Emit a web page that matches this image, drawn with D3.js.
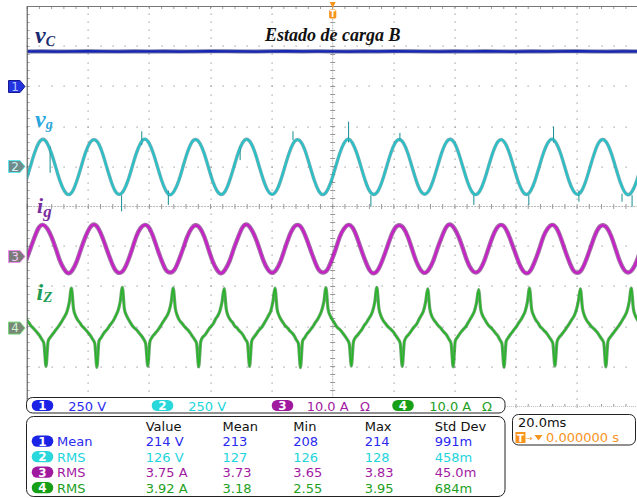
<!DOCTYPE html>
<html><head><meta charset="utf-8">
<script src="https://cdn.jsdelivr.net/npm/d3@7/dist/d3.min.js"></script>
<style>html,body{margin:0;padding:0;background:#fff;}svg{display:block;}</style>
</head><body>
<svg id="c" width="637" height="498"></svg>
<script>
// ---------------- DATA ----------------
// time axis (ms), 20 ms/div, trigger at 0
const timeDomain = [-100, 100];
// Channel 1 : vC (V), sampled every 5 ms from -100 ms
const vcStart = -100, vcStep = 5;
const vcValues = [219,220,218,219,221,219,218,220,219,220,218,219,221,220,219,218,220,221,219,220,219,218,220,219,221,220,219,218,220,219,221,219,218,220,219,220,221,219,218,220,219];
// Channel 2 : vg (V), 12 samples per 60 Hz cycle
const vgStart = -100.38, vgStep = 1.3883;
const vgValues = [
-88,-2,84,147,170,145,82,-4,-90,-151,-176,-153,
-87,-1,85,146,168,147,84,-2,-88,-153,-174,-151,
-90,-4,82,145,171,146,83,-3,-89,-152,-177,-150,
-89,-2,84,148,169,144,82,-5,-91,-151,-175,-152,
-88,-3,83,146,170,147,85,-2,-87,-150,-174,-153,
-90,-4,81,145,168,146,83,-3,-89,-152,-176,-151,
-88,-2,84,147,171,145,82,-4,-90,-153,-175,-152,
-89,-3,83,146,169,146,84,-2,-88,-151,-173,-150,
-87,-1,85,148,170,147,83,-3,-89,-152,-176,-153,
-90,-4,82,145,168,144,81,-5,-91,-152,-175,-151,
-88,-2,84,146,171,146,84,-2,-88,-150,-174,-152,
-89,-3,83,147,169,145,82,-4,-90,-153,-177,-151,
-88,-2];
// vg switching spikes: [time ms, from V, to V]
const vgSpikes = [[-92.5,125,-40],[-69.1,-180,-280],[-62.5,220,135],[-53.8,-150,-240],[-30.3,125,40],[-13.0,220,165],[5.2,150,280],[12.5,-180,-250],[22.0,210,160],[46.2,-180,-240],[64.2,-180,-240],[72.3,150,250],[80.6,-150,-220],[94.7,-170,-220],[98.0,-180,-250]];
// Channel 3 : ig (A)
const igStart = -100.38, igStep = 1.3883;
const igValues = [
-1.0,1.9,4.8,7.2,7.9,7.0,4.9,2.0,-1.1,-3.2,-4.2,-3.3,
-1.1,2.0,4.9,7.1,8.0,7.1,4.8,1.9,-1.0,-3.3,-4.1,-3.4,
-1.2,1.8,5.0,7.1,7.9,7.2,4.9,1.8,-1.1,-3.4,-4.0,-3.3,
-1.0,1.9,4.9,7.0,7.8,7.1,5.0,1.9,-1.2,-3.3,-4.2,-3.2,
-1.1,2.0,4.8,7.2,8.0,7.0,4.9,2.0,-1.1,-3.2,-4.1,-3.3,
-1.2,1.9,4.9,7.1,7.9,7.1,4.8,1.9,-1.0,-3.3,-4.0,-3.4,
-1.1,1.8,5.0,7.0,7.9,7.2,4.9,1.8,-1.1,-3.4,-4.2,-3.3,
-1.0,1.9,4.9,7.1,7.8,7.1,5.0,1.9,-1.2,-3.3,-4.1,-3.2,
-1.1,2.0,4.8,7.2,8.0,7.0,4.9,2.0,-1.1,-3.2,-4.0,-3.3,
-1.2,1.9,4.9,7.1,7.9,7.1,4.8,1.9,-1.0,-3.3,-4.2,-3.4,
-1.1,1.8,5.0,7.0,7.9,7.2,4.9,1.8,-1.1,-3.4,-4.1,-3.3,
-1.0,1.9,4.9,7.1,7.8,7.1,5.0,1.9,-1.2,-3.3,-4.0,-3.2,
-1.1,2.0];
// Channel 4 : iZ (A), 24 samples per cycle
const izStart = -100.79, izStep = 0.69415;
const izValues = [
3.0,2.0,1.3,0.5,0.0,-0.6,-1.2,-1.9,-2.8,-3.8,
-9.6,-3.3,-2.3,-1.6,-0.9,-0.2,0.5,1.3,2.2,3.1,4.3,6.5,10.0,4.8,3.0,2.0,1.3,0.5,0.0,-0.6,-1.2,-1.9,-2.8,-3.8,
-9.8,-3.2,-2.4,-1.5,-0.8,-0.2,0.6,1.3,2.1,3.2,4.4,6.6,10.2,4.7,3.1,2.1,1.2,0.4,-0.1,-0.6,-1.3,-1.9,-2.7,-3.9,
-9.5,-3.4,-2.3,-1.6,-1.0,-0.3,0.5,1.4,2.2,3.0,4.2,6.4,10.0,4.9,3.0,1.9,1.3,0.6,0.0,-0.5,-1.2,-2.0,-2.8,-3.8,
-9.7,-3.3,-2.2,-1.7,-0.9,-0.1,0.5,1.2,2.3,3.1,4.3,6.5,9.9,4.8,2.9,2.0,1.4,0.5,0.1,-0.6,-1.1,-1.8,-2.8,-3.7,
-9.6,-3.3,-2.3,-1.6,-0.8,-0.2,0.4,1.3,2.2,3.2,4.3,6.6,10.0,4.7,3.0,2.0,1.2,0.5,0.0,-0.7,-1.2,-1.9,-2.9,-3.8,
-9.9,-3.2,-2.4,-1.5,-0.9,-0.2,0.5,1.4,2.1,3.1,4.4,6.5,10.1,4.8,3.1,2.1,1.3,0.4,-0.1,-0.6,-1.3,-2.0,-2.8,-3.9,
-9.5,-3.4,-2.3,-1.7,-1.0,-0.3,0.6,1.3,2.2,3.0,4.2,6.4,10.2,4.9,3.0,1.9,1.2,0.5,0.0,-0.5,-1.1,-1.9,-2.7,-3.7,
-9.6,-3.3,-2.2,-1.6,-0.9,-0.1,0.5,1.2,2.3,3.2,4.3,6.5,9.8,4.8,2.9,2.0,1.3,0.6,0.1,-0.6,-1.2,-1.8,-2.8,-3.8,
-9.7,-3.2,-2.3,-1.5,-0.8,-0.2,0.4,1.3,2.2,3.1,4.2,6.3,9.6,4.7,3.0,2.1,1.2,0.5,0.0,-0.6,-1.3,-1.9,-2.9,-3.9,
-9.8,-3.3,-2.4,-1.6,-0.9,-0.2,0.5,1.4,2.1,3.1,4.3,6.5,10.0,4.8,3.1,2.0,1.3,0.4,-0.1,-0.7,-1.2,-2.0,-2.8,-3.8,
-9.5,-3.4,-2.3,-1.7,-1.0,-0.3,0.5,1.3,2.2,3.0,4.4,6.6,9.8,4.9,3.0,1.9,1.2,0.5,0.0,-0.5,-1.1,-1.9,-2.7,-3.7,
-9.7,-3.3,-2.3,-1.6,-0.9,-0.2,0.5,1.3,2.2,3.1,4.3,6.5,10.0,4.8,3.0,2.0,1.3];
// channel settings
const chNumbers = ["1","2","3","4"];
const chScaleText = ["250 V","250 V","10.0 A","10.0 A"];
const chPerDiv = [250, 250, 10, 10];
const chOffsetDiv = [3, 1, -1.25, -3.04];
// measurement table
const measHeaders = ["Value","Mean","Min","Max","Std Dev"];
const measTypes = ["Mean","RMS","RMS","RMS"];
const measValues = [
  ["214 V","213","208","214","991m"],
  ["126 V","127","126","128","458m"],
  ["3.75 A","3.73","3.65","3.83","45.0m"],
  ["3.92 A","3.18","2.55","3.95","684m"]];
const timebaseText = "20.0ms";
const triggerText = "0.000000 s";
const titleText = "Estado de carga B";

// ---------------- STYLE ----------------
const chColor = ["#2a2af0","#22d4dc","#a21aa2","#1ea01e"];
const ovalColor = ["#1a22e6","#2ad8dc","#a01aa0","#17a017"];
const uiFont = "'DejaVu Sans', Verdana, sans-serif";
const serif = "'Liberation Serif','Times New Roman',serif";

const svg = d3.select("#c");
svg.append("rect").attr("width",637).attr("height",498).attr("fill","#fff");

const x = d3.scaleLinear().domain(timeDomain).range([27.2, 638.2]);
const yDiv = d3.scaleLinear().domain([-5, 5]).range([406.5, 6.5]);
const chY = chPerDiv.map((p,i) => d3.scaleLinear()
  .domain([(-5 - chOffsetDiv[i]) * p, (5 - chOffsetDiv[i]) * p]).range([406.5, 6.5]));

// ---------------- GRATICULE ----------------
const grat = svg.append("g");
const majorT = d3.range(-80, 81, 20).filter(d => d !== 0);
const majorD = d3.range(-4, 5, 1).filter(d => d !== 0);
const minorD = d3.range(-5, 5.001, 0.2);
const minorT = d3.range(-100, 100.001, 4);
const dots = [];
majorT.forEach(t => minorD.forEach(d => dots.push([x(t), yDiv(d)])));
majorD.forEach(d => minorT.forEach(t => dots.push([x(t), yDiv(d)])));
grat.selectAll("rect.dot").data(dots).join("rect").attr("class","dot")
  .attr("x", d => Math.round(d[0]) - 0.5).attr("y", d => Math.round(d[1]) - 0.5)
  .attr("width", 1.2).attr("height", 1.2).attr("fill", "#9a9a9a");
// center axes
grat.append("line").attr("x1", x(0)).attr("x2", x(0)).attr("y1", yDiv(5)).attr("y2", yDiv(-5))
  .attr("stroke", "#b8b8b8").attr("stroke-dasharray","2,1");
grat.append("line").attr("x1", x(-100)).attr("x2", x(100)).attr("y1", yDiv(0)).attr("y2", yDiv(0))
  .attr("stroke", "#b8b8b8").attr("stroke-dasharray","2,1");
grat.selectAll("line.vt").data(minorD).join("line").attr("class","vt")
  .attr("x1", x(0) - 2.5).attr("x2", x(0) + 2.5).attr("y1", d => yDiv(d)).attr("y2", d => yDiv(d))
  .attr("stroke", "#999");
grat.selectAll("line.ht").data(minorT).join("line").attr("class","ht")
  .attr("y1", yDiv(0) - 2.5).attr("y2", yDiv(0) + 2.5).attr("x1", d => x(d)).attr("x2", d => x(d))
  .attr("stroke", "#999");
// border ticks
grat.selectAll("line.tt").data(minorT).join("line").attr("class","tt")
  .attr("x1", d => x(d)).attr("x2", d => x(d)).attr("y1", yDiv(5)).attr("y2", yDiv(5) + 2.5).attr("stroke", "#999");
grat.selectAll("line.bt").data(minorT).join("line").attr("class","bt")
  .attr("x1", d => x(d)).attr("x2", d => x(d)).attr("y1", yDiv(-5)).attr("y2", yDiv(-5) - 2.5).attr("stroke", "#999");
grat.selectAll("line.lt").data(minorD).join("line").attr("class","lt")
  .attr("x1", x(-100)).attr("x2", x(-100) + 2.5).attr("y1", d => yDiv(d)).attr("y2", d => yDiv(d)).attr("stroke", "#aaa");
grat.append("line").attr("x1", x(-100)).attr("x2", 637).attr("y1", yDiv(-5)).attr("y2", yDiv(-5))
  .attr("stroke", "#bbb").attr("stroke-dasharray","1,1");
grat.append("line").attr("x1", x(-100)).attr("x2", 637).attr("y1", yDiv(5)).attr("y2", yDiv(5)).attr("stroke", "#777");
grat.append("line").attr("x1", x(-100)).attr("x2", x(-100)).attr("y1", yDiv(5)).attr("y2", yDiv(-5)).attr("stroke", "#444");

// ---------------- TRACES ----------------
svg.append("clipPath").attr("id","plotclip").append("rect")
  .attr("x", x(-100) + 0.5).attr("y", yDiv(5)).attr("width", 637 - x(-100)).attr("height", yDiv(-5) - yDiv(5));
const traces = svg.append("g").attr("clip-path","url(#plotclip)");
function drawTrace(values, start, step, sc, curve, dark, main, wDark, wMain) {
  const line = d3.line().x((d,i) => x(start + i * step)).y(d => sc(d)).curve(curve);
  traces.append("path").attr("d", line(values)).attr("fill","none").attr("stroke", dark)
    .attr("stroke-width", wDark).attr("stroke-opacity", 0.6).attr("stroke-linejoin","round");
  traces.append("path").attr("d", line(values)).attr("fill","none").attr("stroke", main)
    .attr("stroke-width", wMain).attr("stroke-linejoin","round");
}
drawTrace(vcValues, vcStart, vcStep, chY[0], d3.curveLinear, "#080c60", "#1626b4", 4, 2.2);
traces.selectAll("line.sp").data(vgSpikes).join("line").attr("class","sp")
  .attr("x1", d => x(d[0])).attr("x2", d => x(d[0])).attr("y1", d => chY[1](d[1])).attr("y2", d => chY[1](d[2]))
  .attr("stroke", "#138d92").attr("stroke-width", 1);
drawTrace(vgValues, vgStart, vgStep, chY[1], d3.curveNatural, "#0f7880", "#26c2ca", 3.4, 1.8);
drawTrace(igValues, igStart, igStep, chY[2], d3.curveNatural, "#660a6c", "#c81ec8", 4.4, 2.2);
drawTrace(izValues, izStart, izStep, chY[3], d3.curveMonotoneX, "#0a6a10", "#28b428", 3.2, 1.6);

// ---------------- TRACE LABELS ----------------
function label(xp, yp, main, sub, size, subSize, dy, color) {
  const t = svg.append("text").attr("x", xp).attr("y", yp).attr("font-family", serif)
    .attr("font-style","italic").attr("font-weight","bold").attr("font-size", size).attr("fill", color);
  t.append("tspan").text(main);
  t.append("tspan").attr("font-size", subSize).attr("dy", dy).text(sub);
}
label(35, 42.7, "v", "C", 24, 14, 3.3, "#1b2a6e");
label(35, 126.7, "v", "g", 24, 14, 1.8, "#2aa6de");
label(37, 213, "i", "g", 22, 17, 3.5, "#7a2c9e");
label(36.5, 299.5, "i", "Z", 24, 15, 2.5, "#1e9e55");
svg.append("text").attr("x", 265).attr("y", 41).attr("font-family", serif).attr("font-style","italic")
  .attr("font-weight","bold").attr("font-size", 18).attr("fill","#111").text(titleText);

// ---------------- CHANNEL MARKERS ----------------
const mFill = ["#2233e0","#6f8c8c","#7a7a7a","#778877"];
const mStroke = ["#1a1a90","#5ee6ea","#f08cf0","#7ad87a"];
const mText = ["#b8c8ff","#d0f4f4","#f4c8f4","#d0f4d0"];
chNumbers.forEach((n,i) => {
  const yy = chY[i](0);
  svg.append("path").attr("d", `M8.5,${yy-6} H20 L25,${yy} L20,${yy+6} H8.5 Z`)
    .attr("fill", mFill[i]).attr("stroke", mStroke[i]).attr("stroke-width", 1).attr("stroke-linejoin","round");
  svg.append("text").attr("x", 15).attr("y", yy + 4.3).attr("text-anchor","middle")
    .attr("font-family", uiFont).attr("font-size", 12).attr("fill", mText[i]).text(n);
});
// trigger marker
const tx = x(0);
svg.append("path").attr("d", `M${tx-3},2 H${tx+3} L${tx},8 Z`).attr("fill","#f7941d");
svg.append("rect").attr("x", tx-3.6).attr("y", 9.5).attr("width", 7.2).attr("height", 9).attr("rx", 1.5).attr("fill","#f7941d");
svg.append("text").attr("x", tx).attr("y", 17).attr("text-anchor","middle").attr("font-family", uiFont)
  .attr("font-size", 8).attr("font-weight","bold").attr("fill","#fff").text("T");

// ---------------- CHANNEL BAR ----------------
function oval(cx, cy, i, n) {
  svg.append("rect").attr("x", cx - 10.8).attr("y", cy - 5.6).attr("width", 21.6).attr("height", 11.2)
    .attr("rx", 5.6).attr("fill", ovalColor[i]);
  svg.append("text").attr("x", cx).attr("y", cy + 4.3).attr("text-anchor","middle").attr("font-family", uiFont)
    .attr("font-size", 12).attr("font-weight","bold").attr("fill","#fff").text(n);
}
svg.append("rect").attr("x", 26.5).attr("y", 397.5).attr("width", 478.5).attr("height", 15.5).attr("rx", 6)
  .attr("fill","#fff").attr("stroke","#222");
const barOvalX = [42.5, 162.5, 282.5, 403];
const barTextX = [68.3, 188.3, 306.7, 429.3];
const omegaX = [null, null, 360, 482];
chNumbers.forEach((n,i) => {
  oval(barOvalX[i], 405.5, i, n);
  svg.append("text").attr("x", barTextX[i]).attr("y", 410.5).attr("font-family", uiFont).attr("font-size", 13)
    .attr("fill", chColor[i]).text(chScaleText[i]);
  if (omegaX[i]) svg.append("text").attr("x", omegaX[i]).attr("y", 410.5).attr("font-family", uiFont)
    .attr("font-size", 13).attr("fill", chColor[i]).text("Ω");
});

// ---------------- MEASUREMENT TABLE ----------------
svg.append("rect").attr("x", 26.5).attr("y", 416.5).attr("width", 478.5).attr("height", 80).attr("rx", 7)
  .attr("fill","#fff").attr("stroke","#222");
const colX = [145.7, 222.5, 293.3, 364.7, 434.7];
const rowY = [446, 461.5, 477, 492.5];
measHeaders.forEach((h,j) => svg.append("text").attr("x", colX[j]).attr("y", 430.5).attr("font-family", uiFont)
  .attr("font-size", 13).attr("fill","#111").text(h));
measTypes.forEach((m,i) => {
  oval(42.5, rowY[i] - 4.8, i, chNumbers[i]);
  svg.append("text").attr("x", 57).attr("y", rowY[i]).attr("font-family", uiFont).attr("font-size", 13)
    .attr("fill", chColor[i]).text(m);
  measValues[i].forEach((v,j) => svg.append("text").attr("x", colX[j]).attr("y", rowY[i]).attr("font-family", uiFont)
    .attr("font-size", 13).attr("fill", chColor[i]).text(v));
});

// ---------------- TIMEBASE BOX ----------------
svg.append("rect").attr("x", 512.5).attr("y", 414.5).attr("width", 123).attr("height", 30.5).attr("rx", 6)
  .attr("fill","#fff").attr("stroke","#222");
svg.append("text").attr("x", 518).attr("y", 426.5).attr("font-family", uiFont).attr("font-size", 13)
  .attr("fill","#111").text(timebaseText);
svg.append("rect").attr("x", 515.5).attr("y", 432).attr("width", 10).attr("height", 11).attr("fill","#f7941d");
svg.append("text").attr("x", 520.5).attr("y", 441.5).attr("text-anchor","middle").attr("font-family", uiFont)
  .attr("font-size", 10).attr("font-weight","bold").attr("fill","#fff").text("T");
svg.append("text").attr("x", 526).attr("y", 441).attr("font-family", uiFont).attr("font-size", 8)
  .attr("fill","#f7941d").text("→");
svg.append("path").attr("d","M534.5,435 H542.5 L538.5,440.5 Z").attr("fill","#f7941d");
svg.append("text").attr("x", 546).attr("y", 442).attr("font-family", uiFont).attr("font-size", 13)
  .attr("fill","#f7941d").text(triggerText);
</script>
</body></html>
